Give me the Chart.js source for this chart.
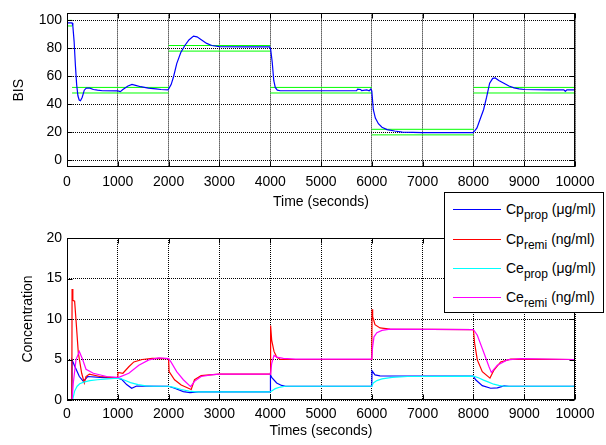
<!DOCTYPE html>
<html>
<head>
<meta charset="utf-8">
<script src="https://cdn.jsdelivr.net/npm/chart.js@4/dist/chart.umd.min.js"></script>
<style>
html,body{margin:0;padding:0;background:#fff;}
#wrap{position:relative;width:606px;height:445px;overflow:hidden;font-family:"Liberation Sans",Arial,sans-serif;}
#c1{position:absolute;left:0;top:0;}
#c2{position:absolute;left:0;top:215px;}
#legend{position:absolute;left:444px;top:192px;width:160px;height:121px;box-sizing:border-box;border:1px solid #000;background:#fff;z-index:5;}
.row{position:absolute;left:0;width:100%;height:20px;}
.sw{position:absolute;left:8px;top:10px;width:48px;height:1px;}
.txt{position:absolute;left:61px;top:0;font-size:14px;line-height:20px;white-space:nowrap;color:#000;}
.sub{font-size:12px;position:relative;top:5px;}
</style>
</head>
<body>
<div id="wrap">
  <canvas id="c1" width="606" height="215"></canvas>
  <canvas id="c2" width="606" height="230"></canvas>
  <div id="legend"></div>
</div>
<script>
// ---------- tick labels ----------
const xTicks = [0,1000,2000,3000,4000,5000,6000,7000,8000,9000,10000];
const bisTicks = [0,20,40,60,80,100];
const concTicks = [0,5,10,15,20];

// ---------- top chart: BIS ----------
const bisTime = [
  0,100,115,140,165,190,215,240,265,300,340,380,450,520,600,700,
  1000,1050,1100,1200,1280,1350,1450,1600,1750,1850,1990,
  2050,2100,2160,2240,2320,2400,2490,2560,2650,2750,2850,3000,3500,3990,
  4010,4040,4070,4100,4140,4200,5000,5700,5720,5780,5800,5900,5950,5980,
  6000,6030,6070,6130,6200,6300,6450,6600,7000,7990,
  8030,8070,8130,8200,8260,8320,8380,8430,8500,8600,8700,8800,8900,9000,9500,9780,9810,9840,10000
];
const bisValue = [
  98.2,98.2,96,85,68,54,46,43,42.5,45,50,51.5,51.5,50.5,50,49.6,
  49.5,49,50.5,53,54.2,53.5,52.5,51.5,51,50.5,50.2,
  54,60,69,77,82,86,88.7,88.2,86,83.5,82,81.2,81,81,
  79,70,57,52,50,49.6,49.6,49.6,50.8,50.5,49.7,50.2,49.6,50.8,
  49.5,36,30,26,23.5,21.8,20.8,20,19.6,19.6,
  21,23,29,36,45,55,58.5,58.8,57,55,53,51.7,51,50.5,50.2,50.2,49.2,50.2,50.2
];
// target BIS segments (green bounds = target +/- band)
const targetStart = [0,100,2000,4000,6000,8000];
const targetEnd   = [100,2000,4000,6000,8000,10000];
const targetBIS   = [98,50,80,50,20,50];
const targetBand  = 2;

// ---------- bottom chart: concentrations ----------
const cpPropTime = [0,95,100,144,243,322,407,650,1000,1076,1174,1273,1371,2000,2118,2290,2421,2585,4000,4005,4029,4127,4225,4300,6000,6005,6063,6161,8000,8044,8175,8340,8471,8602,8700,10000];
const cpPropValue = [0,0,4.95,4.3,2.9,2.3,2.9,2.8,2.7,2.55,1.9,1.45,1.73,1.7,1.45,1.03,0.9,1.0,1.0,3.1,2.8,2.1,1.8,1.7,1.7,3.6,3.1,2.97,2.95,2.5,1.77,1.45,1.5,1.75,1.7,1.7];

const cpRemiTime = [0,95,100,115,150,177,223,289,341,374,440,650,1000,1005,1100,1217,1316,1480,1677,2000,2010,2117,2248,2445,2510,2641,2800,3000,4000,4008,4029,4075,4127,4200,6000,6005,6017,6063,6161,6358,8000,8024,8077,8175,8326,8405,8536,8733,10000];
const cpRemiValue = [0,0,13.7,12.3,12.2,9.9,5.8,3.3,2.1,2.9,3.2,2.9,2.7,3.4,3.3,4.1,4.7,5.0,5.15,5.1,3.5,2.5,1.86,1.3,2.5,3.0,3.1,3.2,3.2,9.2,7.4,6.0,5.3,5.0,5.0,11.2,10.3,9.3,8.9,8.75,8.7,7.0,4.95,3.5,2.7,3.7,4.7,5.05,5.0];

const cePropTime = [0,110,150,200,250,330,450,600,800,1000,1050,1150,1250,1400,1550,1700,2000,2100,2250,2400,2550,4000,4050,4100,4200,4300,6000,6030,6100,6200,6400,6700,8000,8100,8200,8300,8400,8500,8600,10000];
const cePropValue = [0,0,1.1,1.7,2.0,2.2,2.4,2.5,2.6,2.7,2.65,2.4,2.15,1.9,1.75,1.7,1.7,1.55,1.3,1.1,1.0,1.0,1.2,1.4,1.6,1.7,1.7,2.1,2.4,2.6,2.8,2.9,2.95,2.75,2.45,2.2,1.95,1.8,1.7,1.7];

const ceRemiTime = [0,100,124,177,242,308,374,518,781,1000,1043,1217,1414,1611,1808,2000,2046,2159,2290,2434,2510,2641,2838,3000,4000,4010,4029,4075,4127,4258,4500,6000,6015,6043,6100,6200,6358,8000,8077,8208,8307,8353,8471,8668,8930,10000];
const ceRemiValue = [0,0,2.1,4.95,6.0,5.0,3.8,3.3,2.9,2.8,2.85,3.3,4.3,4.95,5.2,5.1,4.7,3.5,2.5,1.65,2.3,2.9,3.1,3.2,3.2,3.3,4.5,5.5,5.3,5.15,5.05,5.05,6.5,7.8,8.3,8.6,8.75,8.7,8.0,5.8,4.1,3.4,4.3,4.95,5.1,5.0];

const seriesBase  = ['Cp','Cp','Ce','Ce'];
const seriesSub   = ['prop','remi','prop','remi'];
const seriesUnit  = ['(\u03BCg/ml)','(ng/ml)','(\u03BCg/ml)','(ng/ml)'];
const seriesColor = ['#0000ff','#ff0000','#00ffff','#ff00ff'];

// ---------- helpers ----------
const pts = (xs, ys) => xs.map((x,i)=>({x:x, y:ys[i]}));
function bandPoints(offset){
  const out = [];
  targetStart.forEach((s,i)=>{
    out.push({x:s, y:targetBIS[i]+offset});
    out.push({x:targetEnd[i], y:targetBIS[i]+offset});
    out.push({x:targetEnd[i], y:null});
  });
  return out;
}

Chart.defaults.font.family = '"Liberation Sans", Arial, sans-serif';
Chart.defaults.font.size = 14;
Chart.defaults.color = '#000';

const boxPlugin = {
  id: 'matlabBox',
  afterDatasetsDraw(chart){
    const {ctx, chartArea:a, scales:{x, y}} = chart;
    const L = Math.round(a.left)+0.5, R = Math.round(a.right)-0.5;
    const T = Math.round(a.top)+0.5,  B = Math.round(a.bottom)-0.5;
    ctx.save();
    ctx.strokeStyle = '#000'; ctx.lineWidth = 1; ctx.setLineDash([]);
    ctx.strokeRect(L, T, R-L, B-T);
    ctx.beginPath();
    x.ticks.forEach(t=>{
      const px = Math.round(x.getPixelForValue(t.value))+0.5;
      ctx.moveTo(px, B); ctx.lineTo(px, B-5);
      ctx.moveTo(px, T); ctx.lineTo(px, T+5);
    });
    y.ticks.forEach(t=>{
      const py = Math.round(y.getPixelForValue(t.value))+0.5;
      ctx.moveTo(L, py); ctx.lineTo(L+5, py);
      ctx.moveTo(R, py); ctx.lineTo(R-5, py);
    });
    ctx.stroke();
    ctx.restore();
  }
};

function gridOpts(){
  return {color:'#000', lineWidth:1, drawTicks:false, borderDash:[1,1]};
}
function xScale(h, pad, titleText, titlePad){
  return {
    type:'linear', min:0, max:10000,
    afterBuildTicks: s => { s.ticks = xTicks.map(v=>({value:v})); },
    afterFit: s => { s.height = h; },
    grid: gridOpts(),
    border: {display:false, dash:[1,1]},
    ticks: {padding:pad, maxRotation:0, autoSkip:false, callback: v => String(v)},
    title: {display:true, text:titleText, padding:{top:0, bottom:titlePad}}
  };
}
function yScale(min, max, tickArr, titleText, titlePad){
  return {
    type:'linear', min:min, max:max,
    afterBuildTicks: s => { s.ticks = tickArr.map(v=>({value:v})); },
    afterFit: s => { s.width = 67; },
    grid: gridOpts(),
    border: {display:false, dash:[1,1]},
    ticks: {padding:5, autoSkip:false, callback: v => String(v)},
    title: {display:true, text:titleText, padding:{top:titlePad, bottom:0}}
  };
}

const common = {
  responsive:false, animation:false, devicePixelRatio:1,
  plugins:{legend:{display:false}, tooltip:{enabled:false}},
  elements:{point:{radius:0}, line:{tension:0, borderWidth:1.2}}
};

const topChart = new Chart(document.getElementById('c1'), {
  type:'line',
  data:{datasets:[
    {label:'BIS', data:pts(bisTime,bisValue), borderColor:'#0000ff', order:1},
    {label:'upper', data:bandPoints(targetBand), borderColor:'#00ff00', borderWidth:1, order:2},
    {label:'lower', data:bandPoints(-targetBand), borderColor:'#00ff00', borderWidth:1, order:3}
  ]},
  options:Object.assign({}, common, {
    layout:{padding:{left:0, right:31, top:10, bottom:0}},
    scales:{
      x: xScale(48, 7, 'Time (seconds)', 4),
      y: yScale(-5, 105, bisTicks, 'BIS', 11)
    }
  }),
  plugins:[boxPlugin]
});

const concX = [cpPropTime, cpRemiTime, cePropTime, ceRemiTime];
const concY = [cpPropValue, cpRemiValue, cePropValue, ceRemiValue];
const bottomChart = new Chart(document.getElementById('c2'), {
  type:'line',
  data:{datasets: seriesBase.map((b,i)=>({
    label: b + '_' + seriesSub[i] + ' ' + seriesUnit[i],
    data: pts(concX[i], concY[i]),
    borderColor: seriesColor[i],
    order: 4 - i
  }))},
  options:Object.assign({}, common, {
    layout:{padding:{left:0, right:31, top:23, bottom:0}},
    scales:{
      x: xScale(45, 6, 'Times (seconds)', 5),
      y: yScale(0, 20, concTicks, 'Concentration', 19.5)
    }
  }),
  plugins:[boxPlugin]
});

// ---------- legend built from the bottom chart's datasets ----------
const rowTops = [6, 35.5, 65, 94];
const legend = document.getElementById('legend');
bottomChart.data.datasets.forEach((ds,i)=>{
  const row = document.createElement('div');
  row.className = 'row';
  row.style.top = rowTops[i] + 'px';
  const sw = document.createElement('div');
  sw.className = 'sw';
  sw.style.background = ds.borderColor;
  const txt = document.createElement('div');
  txt.className = 'txt';
  const a = document.createElement('span'); a.textContent = seriesBase[i];
  const s = document.createElement('span'); s.className = 'sub'; s.textContent = seriesSub[i];
  const u = document.createElement('span'); u.textContent = ' ' + seriesUnit[i];
  txt.appendChild(a); txt.appendChild(s); txt.appendChild(u);
  row.appendChild(sw); row.appendChild(txt);
  legend.appendChild(row);
});
</script>
</body>
</html>
